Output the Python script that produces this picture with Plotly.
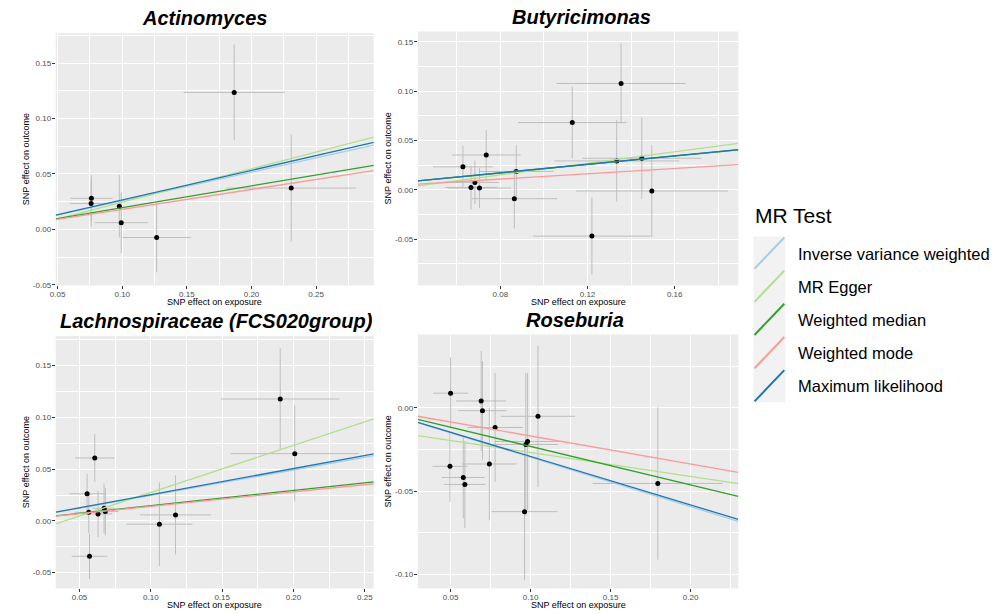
import plotly.graph_objects as go

# ---------------- data ----------------
panels = ["Actinomyces", "Butyricimonas", "Lachnospiraceae (FCS020group)", "Roseburia"]

# Actinomyces
act_bx = [0.0761, 0.0759, 0.0977, 0.0992, 0.1266, 0.1866, 0.2307]
act_by = [0.0280, 0.0232, 0.0208, 0.0060, -0.0074, 0.1235, 0.0372]
act_bx_ci = [0.0165, 0.0165, 0.0000, 0.0205, 0.0264, 0.0391, 0.0502]
act_by_ci = [0.0210, 0.0210, 0.0282, 0.0275, 0.0314, 0.0432, 0.0482]

# Butyricimonas
but_bx = [0.0628, 0.0665, 0.0683, 0.0704, 0.0735, 0.0864, 0.0873, 0.1130, 0.1220, 0.1334, 0.1354, 0.1449, 0.1495]
but_by = [0.0232, 0.0023, 0.0074, 0.0017, 0.0352, -0.0091, 0.0185, 0.0681, -0.0470, 0.0292, 0.1077, 0.0319, -0.0013]
but_bx_ci = [0.0137, 0.0120, 0.0110, 0.0145, 0.0158, 0.0196, 0.0170, 0.0249, 0.0270, 0.0287, 0.0297, 0.0274, 0.0349]
but_by_ci = [0.0215, 0.0222, 0.0222, 0.0202, 0.0255, 0.0302, 0.0268, 0.0363, 0.0390, 0.0412, 0.0406, 0.0411, 0.0465]

# Lachnospiraceae (FCS020group)
lac_bx = [0.0553, 0.0607, 0.0565, 0.0570, 0.0630, 0.0672, 0.0681, 0.1060, 0.1173, 0.1907, 0.2009]
lac_by = [0.0262, 0.0608, 0.0083, -0.0342, 0.0067, 0.0122, 0.0090, -0.0032, 0.0058, 0.1178, 0.0650]
lac_bx_ci = [0.0124, 0.0137, 0.0100, 0.0125, 0.0100, 0.0080, 0.0090, 0.0232, 0.0250, 0.0415, 0.0449]
lac_by_ci = [0.0196, 0.0229, 0.0200, 0.0219, 0.0224, 0.0240, 0.0230, 0.0403, 0.0383, 0.0488, 0.0464]

# Roseburia
ros_bx = [0.0500, 0.0496, 0.0579, 0.0589, 0.0691, 0.0699, 0.0742, 0.0778, 0.0970, 0.0981, 0.0962, 0.1046, 0.1795]
ros_by = [0.0089, -0.0350, -0.0417, -0.0459, 0.0042, -0.0016, -0.0336, -0.0117, -0.0219, -0.0201, -0.0622, -0.0050, -0.0453]
ros_bx_ci = [0.0109, 0.0109, 0.0133, 0.0130, 0.0156, 0.0152, 0.0170, 0.0173, 0.0200, 0.0205, 0.0206, 0.0231, 0.0407]
ros_by_ci = [0.0214, 0.0213, 0.0245, 0.0261, 0.0300, 0.0298, 0.0338, 0.0326, 0.0428, 0.0410, 0.0411, 0.0423, 0.0457]

methods = ["Inverse variance weighted", "MR Egger", "Weighted median", "Weighted mode", "Maximum likelihood"]
method_colors = ["#A6CEE3", "#B2DF8A", "#33A02C", "#FB9A99", "#1F78B4"]

# slopes / intercepts per method (IVW, Egger, WMedian, WMode, ML)
act_slope = [0.258, 0.302, 0.196, 0.180, 0.266]
act_icpt = [0.0, -0.00575, 0.0, 0.0, 0.0]
but_slope = [0.213, 0.292, 0.213, 0.135, 0.215]
but_icpt = [0.0, -0.0083, 0.0, 0.0, 0.0]
lac_slope = [0.246, 0.455, 0.147, 0.140, 0.253]
lac_icpt = [0.0, -0.018, 0.0, 0.0, 0.0]
ros_slope = [-0.296, -0.144, -0.231, -0.168, -0.291]
ros_icpt = [0.0, -0.0123, 0.0, 0.0, 0.0]

# axis ranges
act_xr, act_yr = [0.0485, 0.2946], [-0.0506, 0.177]
but_xr, but_yr = [0.0421, 0.1892], [-0.097, 0.1604]
lac_xr, lac_yr = [0.0333, 0.2563], [-0.0653, 0.1786]
ros_xr, ros_yr = [0.0295, 0.2298], [-0.1083, 0.0441]

act_xt, act_yt = [0.05, 0.10, 0.15, 0.20, 0.25], [-0.05, 0.00, 0.05, 0.10, 0.15]
but_xt, but_yt = [0.08, 0.12, 0.16], [-0.05, 0.00, 0.05, 0.10, 0.15]
lac_xt, lac_yt = [0.05, 0.10, 0.15, 0.20, 0.25], [-0.05, 0.00, 0.05, 0.10, 0.15]
ros_xt, ros_yt = [0.05, 0.10, 0.15, 0.20], [-0.10, -0.05, 0.00]

# ---------------- layout helpers ----------------
W, H = 1004, 614
def px_x(p):
    return p / W
def px_y(p):
    return 1 - p / H

panel_defs = [
    dict(name=panels[0], bx=act_bx, by=act_by, bxc=act_bx_ci, byc=act_by_ci, sl=act_slope, ic=act_icpt,
         xr=act_xr, yr=act_yr, xt=act_xt, yt=act_yt, box=(50, 370, 33.3, 287.3), tc=200),
    dict(name=panels[1], bx=but_bx, by=but_by, bxc=but_bx_ci, byc=but_by_ci, sl=but_slope, ic=but_icpt,
         xr=but_xr, yr=but_yr, xt=but_xt, yt=but_yt, box=(414.3, 736.7, 31.7, 287.3), tc=578.5),
    dict(name=panels[2], bx=lac_bx, by=lac_by, bxc=lac_bx_ci, byc=lac_by_ci, sl=lac_slope, ic=lac_icpt,
         xr=lac_xr, yr=lac_yr, xt=lac_xt, yt=lac_yt, box=(50, 370, 338.3, 592.3), tc=211.5),
    dict(name=panels[3], bx=ros_bx, by=ros_by, bxc=ros_bx_ci, byc=ros_by_ci, sl=ros_slope, ic=ros_icpt,
         xr=ros_xr, yr=ros_yr, xt=ros_xt, yt=ros_yt, box=(414.3, 736.7, 336.7, 592.3), tc=572),
]

fig = go.Figure()
annotations = []
shapes = []
FONT = "Liberation Sans, Arial, sans-serif"

for i, p in enumerate(panel_defs):
    k = "" if i == 0 else str(i + 1)
    xa, ya = "x" + k, "y" + k
    fig.add_trace(go.Scatter(
        x=p["bx"], y=p["by"], mode="markers", xaxis=xa, yaxis=ya, showlegend=False,
        marker=dict(color="black", size=5),
        error_x=dict(type="data", array=p["bxc"], color="#BEBEBE", thickness=1, width=0),
        error_y=dict(type="data", array=p["byc"], color="#BEBEBE", thickness=1, width=0),
        hoverinfo="x+y",
    ))
    for m, col, s, c in zip(methods, method_colors, p["sl"], p["ic"]):
        xs = list(p["xr"])
        ys = [c + s * v for v in xs]
        fig.add_trace(go.Scatter(x=xs, y=ys, mode="lines", xaxis=xa, yaxis=ya, name=m,
                                 line=dict(color=col, width=1.3), showlegend=False))
    l, r, t, b = p["box"]
    xdom = [px_x(l), px_x(r)]
    ydom = [px_y(b), px_y(t)]
    xt, yt = p["xt"], p["yt"]
    dx = round(xt[1] - xt[0], 4)
    dy = round(yt[1] - yt[0], 4)
    common = dict(showline=False, zeroline=False, ticks="outside", ticklen=3, tickwidth=1,
                  tickcolor="#333333", gridcolor="white", gridwidth=1.3,
                  tickfont=dict(family=FONT, size=8, color="#4D4D4D"))
    fig.layout["xaxis" + k] = dict(domain=xdom, range=p["xr"], anchor=ya, tickmode="array",
                                   tickvals=xt, ticktext=[f"{v:.2f}" for v in xt],
                                   ticklabelstandoff=-2,
                                   minor=dict(dtick=dx / 2, tick0=xt[0], showgrid=True,
                                              gridcolor="white", gridwidth=0.6, ticks=""),
                                   **common)
    fig.layout["yaxis" + k] = dict(domain=ydom, range=p["yr"], anchor=xa, tickmode="array",
                                   tickvals=yt, ticktext=[f"{v:.2f}" for v in yt],
                                   ticklabelstandoff=-1,
                                   minor=dict(dtick=dy / 2, tick0=yt[0], showgrid=True,
                                              gridcolor="white", gridwidth=0.6, ticks=""),
                                   **common)
    annotations.append(dict(text=f"<b><i>{p['name']}</i></b>", x=px_x(p["tc"]), y=px_y(t - 15),
                            xref="paper", yref="paper", xanchor="center", yanchor="middle",
                            showarrow=False, font=dict(family=FONT, size=20, color="black")))
    annotations.append(dict(text="SNP effect on exposure", x=(xdom[0] + xdom[1]) / 2, y=px_y(b + 16.5),
                            xref="paper", yref="paper", xanchor="center", yanchor="middle",
                            showarrow=False, font=dict(family=FONT, size=9, color="black")))
    annotations.append(dict(text="SNP effect on outcome", x=px_x(l - 30), y=(ydom[0] + ydom[1]) / 2,
                            xref="paper", yref="paper", xanchor="center", yanchor="middle", textangle=-90,
                            showarrow=False, font=dict(family=FONT, size=9, color="black")))

# ---------------- custom legend (ggplot style) ----------------
leg_l, leg_r, leg_t, key_h = 752, 784, 238, 33.4
annotations.append(dict(text="MR Test", x=px_x(751), y=px_y(217), xref="paper", yref="paper",
                        xanchor="left", yanchor="middle", showarrow=False,
                        font=dict(family=FONT, size=21, color="black")))
shapes.append(dict(type="rect", xref="paper", yref="paper", x0=px_x(leg_l), x1=px_x(leg_r),
                   y0=px_y(leg_t + key_h * len(methods)), y1=px_y(leg_t),
                   fillcolor="#F2F2F2", line=dict(width=0), layer="below"))
for j, (m, col) in enumerate(zip(methods, method_colors)):
    top = leg_t + key_h * j
    shapes.append(dict(type="line", xref="paper", yref="paper",
                       x0=px_x(leg_l + 1), y0=px_y(top + key_h - 1), x1=px_x(leg_r - 1), y1=px_y(top + 1),
                       line=dict(color=col, width=2)))
    annotations.append(dict(text=m, x=px_x(795), y=px_y(top + key_h / 2 + 0.5), xref="paper", yref="paper",
                            xanchor="left", yanchor="middle", showarrow=False,
                            font=dict(family=FONT, size=16.5, color="black")))

fig.update_layout(width=W, height=H, margin=dict(l=0, r=0, t=0, b=0),
                  paper_bgcolor="white", plot_bgcolor="#EBEBEB",
                  annotations=annotations, shapes=shapes, showlegend=False)

fig.write_html("out.html", config={"displayModeBar": False},
               post_script="document.body.style.margin='0';")
